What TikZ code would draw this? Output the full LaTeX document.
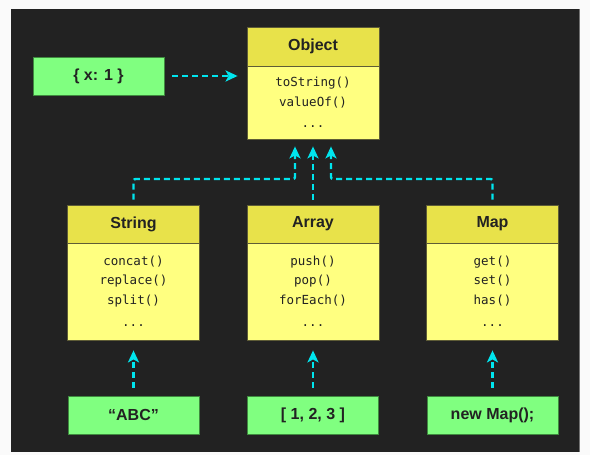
\documentclass[tikz,border=0pt]{standalone}
\usepackage{fontspec}
\usetikzlibrary{arrows.meta}
\newfontfamily\ttlfont{Liberation Sans}
\newfontfamily\codefont{DejaVu Sans Mono}
\definecolor{darkbg}{HTML}{222222}
\definecolor{lightbg}{HTML}{FAFAFA}
\definecolor{hdrcol}{HTML}{E8E24A}
\definecolor{bodycol}{HTML}{FFFF80}
\definecolor{litcol}{HTML}{80FF80}
\definecolor{arrcol}{HTML}{00E5EE}
\definecolor{txtcol}{HTML}{222222}
\definecolor{boxline}{HTML}{5E5C36}
\definecolor{litline}{HTML}{3F8A3F}
\tikzset{
  hdr/.style={rectangle, draw=boxline, line width=0.8pt, fill=hdrcol, minimum width=132pt, minimum height=38pt, inner sep=0pt, text=txtcol, font=\ttlfont\bfseries\fontsize{16}{19}\selectfont},
  bodybox/.style={rectangle, draw=boxline, line width=0.8pt, fill=bodycol, minimum width=132pt, inner sep=0pt, align=center, text=txtcol, font=\codefont\fontsize{12.5}{19.5}\selectfont},
  lit/.style={rectangle, draw=litline, line width=0.8pt, fill=litcol, minimum width=131pt, minimum height=38pt, inner sep=0pt, text=txtcol, font=\ttlfont\bfseries\fontsize{16}{19}\selectfont},
  inh/.style={draw=arrcol, line width=2.4pt, dash pattern=on 6pt off 4pt, rounded corners=2pt, -{Stealth[length=12pt,width=11pt,inset=3pt]}},
}
\begin{document}
\begin{tikzpicture}[x=1pt,y=1pt]
\useasboundingbox (0,0) rectangle (590,455);
\fill[lightbg] (0,0) rectangle (590,455);
\fill[darkbg] (11,3) rectangle (579,446);
\draw[black!55, line width=0.8pt] (579,3) -- (579,446);
% Object
\node[hdr, minimum height=39pt] (objH) at (313,408.5) {Object};
\node[bodybox, minimum height=73pt] (objB) at (313,352.5) {toString()\\valueOf()\\[2pt]...};
% classes
\node[hdr] (strH) at (133.5,231) {String};
\node[bodybox, minimum height=97pt] (strB) at (133.5,163.5) {concat()\\replace()\\split()\\[3pt]...};
\node[hdr] (arrH) at (313,231) {Array};
\node[bodybox, minimum height=97pt] (arrB) at (313,163.5) {push()\\pop()\\forEach()\\[3pt]...};
\node[hdr] (mapH) at (492.5,231) {Map};
\node[bodybox, minimum height=97pt] (mapB) at (492.5,163.5) {get()\\set()\\has()\\[3pt]...};
% literals
\node[lit] (objL) at (98.5,379) {\{ x: 1 \}};
\node[lit] (strL) at (133.5,40) {“ABC”};
\node[lit] (arrL) at (313,40) {[ 1, 2, 3 ]};
\node[lit] (mapL) at (492.5,40) {new Map();};
% arrows
\coordinate (hl) at (0,276);
\draw[inh, shorten <=8pt, shorten >=9pt] (objL.east) -- (objL.east -| objB.west);
\draw[inh, shorten <=8pt, shorten >=10pt] (strL.north) -- (strB.south);
\draw[inh, shorten <=8pt, shorten >=10pt] (arrL.north) -- (arrB.south);
\draw[inh, shorten <=8pt, shorten >=10pt] (mapL.north) -- (mapB.south);
\draw[inh, shorten <=5pt, shorten >=7pt] (strH.north) -- (strH.north |- hl) -| ([xshift=-18pt]objB.south);
\draw[inh, shorten <=5pt, shorten >=7pt] (arrH.north) -- (objB.south);
\draw[inh, shorten <=5pt, shorten >=7pt] (mapH.north) -- (mapH.north |- hl) -| ([xshift=18pt]objB.south);
\end{tikzpicture}
\end{document}
